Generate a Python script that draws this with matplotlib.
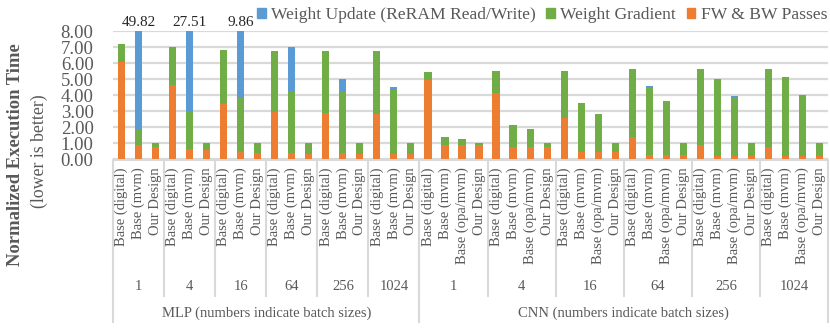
import matplotlib
matplotlib.use('Agg')
import matplotlib.pyplot as plt
import numpy as np
from matplotlib.transforms import blended_transform_factory
from matplotlib.patches import Patch

plt.rcParams['font.family'] = ['Liberation Serif', 'DejaVu Serif']

# ---------------- data ----------------
batch_sizes = ['1', '4', '16', '64', '256', '1024']
mlp_configs = ['Base (digital)', 'Base (mvm)', 'Our Design']
cnn_configs = ['Base (digital)', 'Base (mvm)', 'Base (opa/mvm)', 'Our Design']
series_names = ['Weight Update (ReRAM Read/Write)', 'Weight Gradient', 'FW & BW Passes']

# MLP: one row per batch size, one value per config
mlp_fwbw = [[6.08, 0.85, 0.77], [4.63, 0.62, 0.56], [3.44, 0.46, 0.40],
            [2.96, 0.36, 0.31], [2.85, 0.35, 0.31], [2.79, 0.31, 0.31]]
mlp_grad = [[1.09, 1.03, 0.23], [2.35, 2.34, 0.44], [3.37, 3.37, 0.60],
            [3.81, 3.85, 0.69], [3.92, 3.92, 0.69], [3.98, 4.00, 0.69]]
mlp_update = [[0.00, 47.94, 0.00], [0.00, 24.55, 0.00], [0.00, 6.03, 0.00],
              [0.00, 2.77, 0.00], [0.00, 0.73, 0.00], [0.00, 0.19, 0.00]]

# CNN
cnn_fwbw = [[4.94, 0.88, 0.88, 0.88], [4.10, 0.73, 0.73, 0.73], [2.54, 0.46, 0.46, 0.46],
            [1.35, 0.25, 0.25, 0.25], [0.88, 0.21, 0.21, 0.21], [0.77, 0.19, 0.19, 0.19]]
cnn_grad = [[0.52, 0.45, 0.36, 0.12], [1.40, 1.39, 1.09, 0.27], [2.98, 3.01, 2.34, 0.54],
            [4.25, 4.26, 3.37, 0.75], [4.75, 4.76, 3.68, 0.79], [4.86, 4.88, 3.80, 0.81]]
cnn_update = [[0.00, 0.04, 0.03, 0.00], [0.00, 0.03, 0.03, 0.00], [0.00, 0.03, 0.03, 0.00],
              [0.00, 0.03, 0.03, 0.00], [0.00, 0.03, 0.03, 0.00], [0.00, 0.03, 0.03, 0.00]]

model_labels = ['MLP (numbers indicate batch sizes)', 'CNN (numbers indicate batch sizes)']

# ---------------- build flat arrays ----------------
fw = np.array(sum(mlp_fwbw, []) + sum(cnn_fwbw, []))
gr = np.array(sum(mlp_grad, []) + sum(cnn_grad, []))
up = np.array(sum(mlp_update, []) + sum(cnn_update, []))
bar_labels = mlp_configs * len(batch_sizes) + cnn_configs * len(batch_sizes)
x = np.arange(len(fw))

C_BLUE, C_GREEN, C_ORANGE = '#5B9BD5', '#70AD47', '#ED7D31'
GRID = '#D9D9D9'
TXT = '#595959'

W, H = 830, 330
fig = plt.figure(figsize=(W / 100, H / 100), dpi=100)
ax_left, ax_right, ax_top, ax_bot = 113, 828, 31, 159
ax = fig.add_axes([ax_left / W, 1 - ax_bot / H, (ax_right - ax_left) / W, (ax_bot - ax_top) / H])

bw = 0.42
ax.bar(x, fw, bw, color=C_ORANGE, zorder=3)
ax.bar(x, gr, bw, bottom=fw, color=C_GREEN, zorder=3)
ax.bar(x, up, bw, bottom=fw + gr, color=C_BLUE, zorder=3)

ax.set_ylim(0, 8)
ax.set_xlim(-0.5, len(fw) - 0.5)
ax.set_yticks(np.arange(0, 9, 1))
ax.set_yticklabels([f'{v:.2f}' for v in np.arange(0, 9, 1)])
ax.tick_params(axis='y', length=0, pad=14, labelsize=13.5, labelcolor=TXT)
ax.set_xticks([])
ax.yaxis.grid(True, color=GRID, lw=1.6, zorder=0)
ax.set_axisbelow(True)
for s in ax.spines.values():
    s.set_visible(False)

trans = blended_transform_factory(ax.transData, ax.transAxes)
def ya(py):
    return (ax_bot - py) / (ax_bot - ax_top)

# value labels for clipped bars
tot = fw + gr + up
for xi, t in zip(x, tot):
    if t > 8:
        ax.text(xi, ya(23), f'{t:.2f}', transform=trans, ha='center', va='center',
                fontsize=11, color='#262626', clip_on=False)

# category labels
for xi, lab in zip(x, bar_labels):
    ax.text(xi, ya(167), lab, transform=trans, rotation=90, ha='center', va='top',
            fontsize=10.5, color=TXT, clip_on=False)

# group separators and labels
line_kw = dict(color=GRID, lw=1.5, clip_on=False, transform=trans, solid_capstyle='butt')
n_m = len(mlp_configs)
n_c = len(cnn_configs)
bounds = []
start = -0.5
for b in batch_sizes:
    bounds.append((start, start + n_m, b))
    start += n_m
mlp_end = start
for b in batch_sizes:
    bounds.append((start, start + n_c, b))
    start += n_c
cnn_end = start

for s0, s1, b in bounds:
    ax.plot([s0, s0], [0, ya(297)], **line_kw)
    ax.text((s0 + s1) / 2, ya(287), b, transform=trans, ha='center', va='center',
            fontsize=10.5, color=TXT, clip_on=False)
for xx in [-0.5, mlp_end, cnn_end]:
    ax.plot([xx, xx], [0, ya(323)], **line_kw)
ax.plot([-0.5, cnn_end], [ya(160), ya(160)], **line_kw)
ax.text((-0.5 + mlp_end) / 2, ya(313), model_labels[0], transform=trans, ha='center',
        va='center', fontsize=10.5, color=TXT, clip_on=False)
ax.text((mlp_end + cnn_end) / 2, ya(313), model_labels[1], transform=trans, ha='center',
        va='center', fontsize=10.5, color=TXT, clip_on=False)

# y label
fig.text(16 / W, 1 - 155 / H, 'Normalized Execution Time', rotation=90, ha='center',
         va='center', fontsize=13.4, fontweight='bold', color=TXT)
fig.text(39 / W, 1 - 151 / H, '(lower is better)', rotation=90, ha='center',
         va='center', fontsize=12.8, color=TXT)

# legend
handles = [Patch(color=C_BLUE), Patch(color=C_GREEN), Patch(color=C_ORANGE)]
leg = ax.legend(handles, series_names, loc='center right', bbox_to_anchor=(827 / W, 1 - 15 / H),
                bbox_transform=fig.transFigure, ncol=3, frameon=False, fontsize=12.6,
                handlelength=0.5, handleheight=0.5, handletextpad=0.3, columnspacing=0.6,
                borderpad=0, borderaxespad=0)
for t in leg.get_texts():
    t.set_color(TXT)

fig.savefig('out.png', dpi=100)
